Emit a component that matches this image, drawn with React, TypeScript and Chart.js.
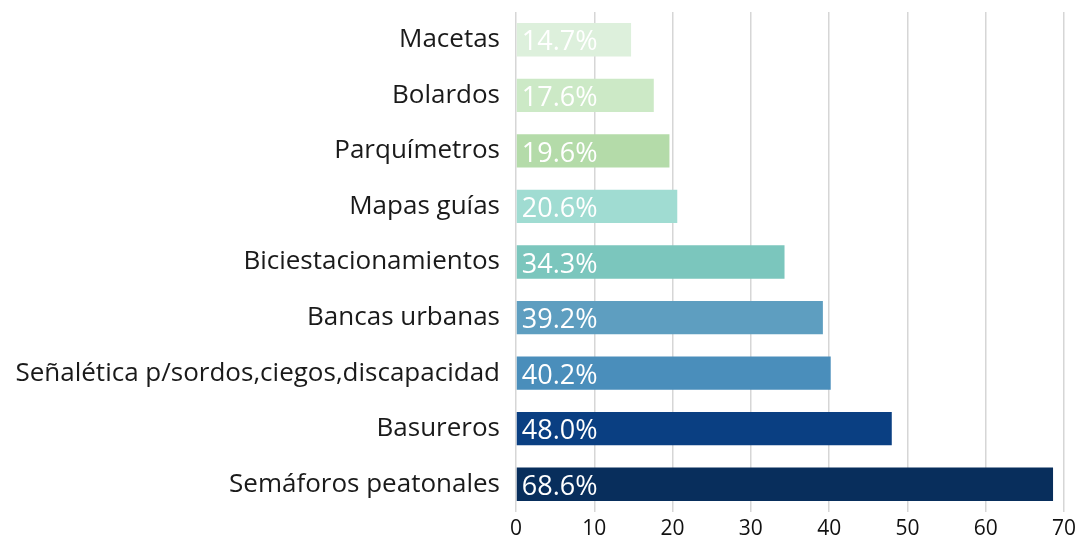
import React, { useEffect, useRef } from "react";
import { Chart, registerables } from "chart.js";

Chart.register(...registerables);

const categories = [
  "Macetas",
  "Bolardos",
  "Parquímetros",
  "Mapas guías",
  "Biciestacionamientos",
  "Bancas urbanas",
  "Señalética p/sordos,ciegos,discapacidad",
  "Basureros",
  "Semáforos peatonales",
];
const values = [14.7, 17.6, 19.6, 20.6, 34.3, 39.2, 40.2, 48.0, 68.6];
const barColors = [
  "#ddf0dc",
  "#cce9c6",
  "#b4dba9",
  "#a0dcd2",
  "#7bc6bd",
  "#5e9ec0",
  "#4a8ebb",
  "#0a3f82",
  "#082e5c",
];
const xTicks = [0, 10, 20, 30, 40, 50, 60, 70];

const FONT = "'Open Sans', 'Noto Sans', sans-serif";

const valueLabels = {
  id: "valueLabels",
  afterDatasetsDraw(chart: any) {
    const ctx = chart.ctx;
    const meta = chart.getDatasetMeta(0);
    ctx.save();
    ctx.font = `27px ${FONT}`;
    ctx.fillStyle = "#ffffff";
    ctx.textAlign = "left";
    ctx.textBaseline = "middle";
    meta.data.forEach((bar: any, i: number) => {
      const v = values[i];
      ctx.fillText(v.toFixed(1) + "%", bar.base + 5, bar.y + 3);
    });
    ctx.restore();
  },
};

export default function App() {
  const ref = useRef<HTMLCanvasElement>(null);
  useEffect(() => {
    document.body.style.margin = "0";
    const chart = new Chart(ref.current!, {
      type: "bar",
      data: {
        labels: categories,
        datasets: [
          {
            data: values,
            backgroundColor: barColors,
            barPercentage: 0.6,
            categoryPercentage: 1,
          },
        ],
      },
      options: {
        indexAxis: "y",
        animation: false,
        responsive: false,
        layout: { padding: { top: 12, right: 16, left: 0, bottom: 0 } },
        plugins: { legend: { display: false }, tooltip: { enabled: false } },
        scales: {
          x: {
            min: 0,
            max: 70,
            afterBuildTicks: (s: any) => {
              s.ticks = xTicks.map((v) => ({ value: v }));
            },
            grid: { color: "#d6d6d6", lineWidth: 1.5, drawTicks: false },
            border: { display: false },
            ticks: {
              color: "#111111",
              font: { family: FONT, size: 21 },
              padding: 4,
              maxRotation: 0,
            },
            afterFit: (s: any) => {
              s.height = 25;
              s.paddingLeft = 0;
              s.paddingRight = 0;
            },
          },
          y: {
            grid: { display: false, drawTicks: false },
            border: { display: false },
            ticks: {
              color: "#1a1a1a",
              font: { family: FONT, size: 26 },
              padding: 16,
            },
            afterFit: (s: any) => {
              s.width = 516;
              s.paddingTop = 0;
              s.paddingBottom = 0;
            },
          },
        },
      },
      plugins: [valueLabels],
    });
    return () => chart.destroy();
  }, []);
  return (
    <div style={{ position: "absolute", left: 0, top: 0, width: 1080, height: 537 }}>
      <canvas ref={ref} width={1080} height={537} />
    </div>
  );
}
